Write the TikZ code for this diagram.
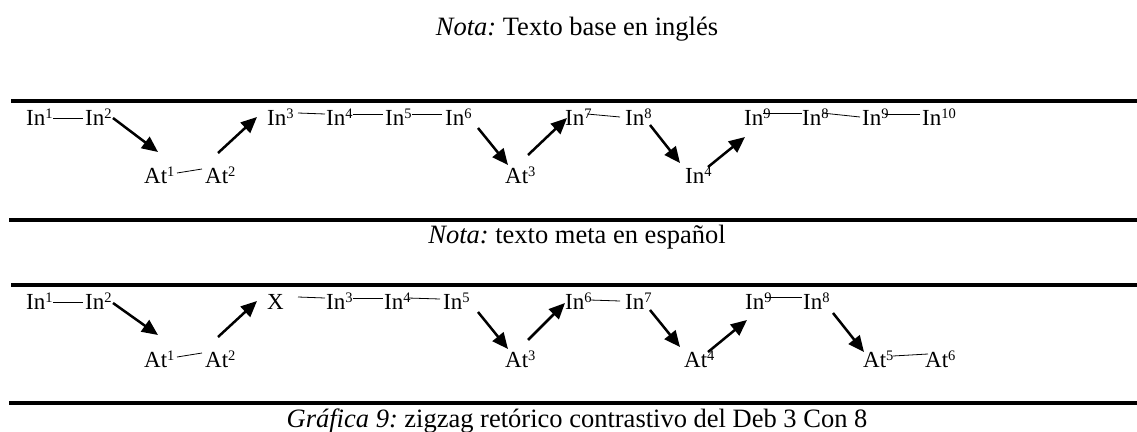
\documentclass[tikz,border=0pt]{standalone}
\usepackage{fontspec}
\setmainfont{Liberation Serif}
\usetikzlibrary{arrows.meta}
\newcommand\sps[1]{\raisebox{7pt}{\fontsize{14.5}{15}\selectfont #1}}
\frenchspacing
\begin{document}
\begin{tikzpicture}[x=1pt,y=-1pt,
  lab/.style={anchor=base west, inner sep=0pt, font=\fontsize{23}{26}\selectfont},
  txt/.style={anchor=base, inner sep=0pt, font=\fontsize{26.5}{30}\selectfont},
  rule/.style={line width=3.5pt},
  link/.style={line width=0.8pt},
  arr/.style={line width=2.5pt, -{Triangle[length=16pt,width=14pt]}}]
\useasboundingbox (0,0) rectangle (1137,431);

% texts
\node[txt] (nota1) at (577,35) {\textit{Nota:} Texto base en inglés};
\node[txt] (nota2) at (577,243) {\textit{Nota:} texto meta en español};
\node[txt] (cap) at (577,427) {\textit{Gráfica 9:} zigzag retórico contrastivo del Deb 3 Con 8};

% rules
\draw[rule] (11,101) -- (1137,101);
\draw[rule] (9,220) -- (1137,220);
\draw[rule] (11,285) -- (1137,285);
\draw[rule] (9,403) -- (1137,403);

% row 1
\node[lab] (t1) at (26,125) {In\sps{1}};
\node[lab] (t2) at (85,125) {In\sps{2}};
\node[lab] (t3) at (144,183) {At\sps{1}};
\node[lab] (t4) at (205,183) {At\sps{2}};
\node[lab] (t5) at (267,125) {In\sps{3}};
\node[lab] (t6) at (326,125) {In\sps{4}};
\node[lab] (t7) at (385,125) {In\sps{5}};
\node[lab] (t8) at (445,125) {In\sps{6}};
\node[lab] (t9) at (505,183) {At\sps{3}};
\node[lab] (t10) at (565,125) {In\sps{7}};
\node[lab] (t11) at (625,125) {In\sps{8}};
\node[lab] (t12) at (685,183) {In\sps{4}};
\node[lab] (t13) at (744,125) {In\sps{9}};
\node[lab] (t14) at (802,125) {In\sps{8}};
\node[lab] (t15) at (862,125) {In\sps{9}};
\node[lab] (t16) at (922,125) {In\sps{10}};

\draw[link] ([shift={(27,-7)}]t1.base west) -- ([shift={(-2,-7)}]t2.base west);
\draw[link] ([shift={(33,-10)}]t3.base west) -- ([shift={(-3,-14)}]t4.base west);
\draw[link] ([shift={(31,-12)}]t5.base west) -- ([shift={(-1,-11)}]t6.base west);
\draw[link] ([shift={(27,-11)}]t6.base west) -- ([shift={(-2,-11)}]t7.base west);
\draw[link] ([shift={(27,-11)}]t7.base west) -- ([shift={(-3,-11)}]t8.base west);
\draw[link] ([shift={(22,-11)}]t10.base west) -- ([shift={(-5,-8)}]t11.base west);
\draw[link] ([shift={(19,-12)}]t13.base west) -- ([shift={(0,-12)}]t14.base west);
\draw[link] ([shift={(20,-12)}]t14.base west) -- ([shift={(-2,-8)}]t15.base west);
\draw[link] ([shift={(23,-11)}]t15.base west) -- ([shift={(-2,-11)}]t16.base west);

\draw[arr] ([shift={(28,-7)}]t2.base west) -- ([shift={(14,-31)}]t3.base west);
\draw[arr] ([shift={(13,-30)}]t4.base west) -- ([shift={(-10,-8)}]t5.base west);
\draw[arr] ([shift={(33,3)}]t8.base west) -- ([shift={(3,-18)}]t9.base west);
\draw[arr] ([shift={(23,-28)}]t9.base west) -- ([shift={(2,-7)}]t10.base west);
\draw[arr] ([shift={(25,0)}]t11.base west) -- ([shift={(-5,-20)}]t12.base west);
\draw[arr] ([shift={(23,-16)}]t12.base west) -- ([shift={(1,12)}]t13.base west);

% row 2
\node[lab] (b1) at (26,309) {In\sps{1}};
\node[lab] (b2) at (85,309) {In\sps{2}};
\node[lab] (b3) at (144,367) {At\sps{1}};
\node[lab] (b4) at (205,367) {At\sps{2}};
\node[lab] (b5) at (267,309) {X};
\node[lab] (b6) at (326,309) {In\sps{3}};
\node[lab] (b7) at (384,309) {In\sps{4}};
\node[lab] (b8) at (443,309) {In\sps{5}};
\node[lab] (b9) at (505,367) {At\sps{3}};
\node[lab] (b10) at (565,309) {In\sps{6}};
\node[lab] (b11) at (625,309) {In\sps{7}};
\node[lab] (b12) at (684,367) {At\sps{4}};
\node[lab] (b13) at (745,309) {In\sps{9}};
\node[lab] (b14) at (803,309) {In\sps{8}};
\node[lab] (b15) at (863,367) {At\sps{5}};
\node[lab] (b16) at (925,367) {At\sps{6}};

\draw[link] ([shift={(27,-7)}]b1.base west) -- ([shift={(-2,-7)}]b2.base west);
\draw[link] ([shift={(33,-10)}]b3.base west) -- ([shift={(-3,-14)}]b4.base west);
\draw[link] ([shift={(31,-12)}]b5.base west) -- ([shift={(-1,-11)}]b6.base west);
\draw[link] ([shift={(27,-11)}]b6.base west) -- ([shift={(-1,-11)}]b7.base west);
\draw[link] ([shift={(24,-11)}]b7.base west) -- ([shift={(-3,-10)}]b8.base west);
\draw[link] ([shift={(25,-9)}]b10.base west) -- ([shift={(-5,-8)}]b11.base west);
\draw[link] ([shift={(20,-12)}]b13.base west) -- ([shift={(-1,-12)}]b14.base west);
\draw[link] ([shift={(30,-11)}]b15.base west) -- ([shift={(3,-13)}]b16.base west);

\draw[arr] ([shift={(28,-6)}]b2.base west) -- ([shift={(14,-32)}]b3.base west);
\draw[arr] ([shift={(13,-30)}]b4.base west) -- ([shift={(-10,-8)}]b5.base west);
\draw[arr] ([shift={(35,3)}]b8.base west) -- ([shift={(3,-18)}]b9.base west);
\draw[arr] ([shift={(23,-27)}]b9.base west) -- ([shift={(0,-6)}]b10.base west);
\draw[arr] ([shift={(25,1)}]b11.base west) -- ([shift={(-4,-20)}]b12.base west);
\draw[arr] ([shift={(24,-15)}]b12.base west) -- ([shift={(2,11)}]b13.base west);
\draw[arr] ([shift={(30,4)}]b14.base west) -- ([shift={(1,-15)}]b15.base west);
\end{tikzpicture}
\end{document}
